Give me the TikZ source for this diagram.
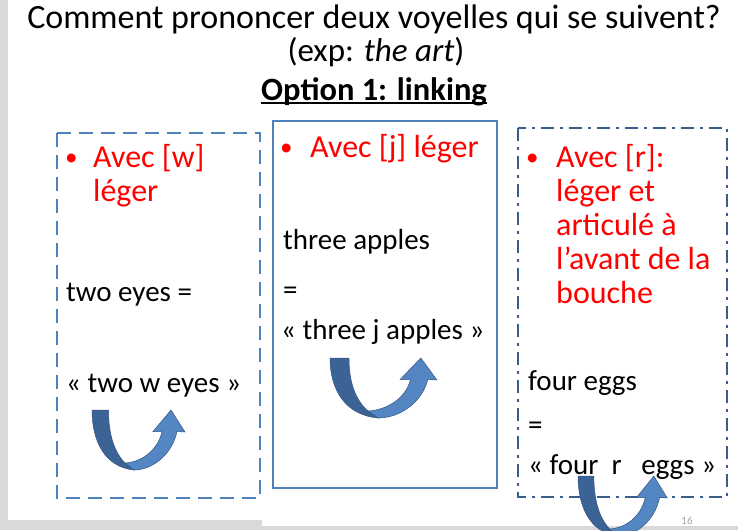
\documentclass[tikz,border=0pt]{standalone}
\usepackage{fontspec}
\setmainfont{Carlito}
\usepackage{tikz}

\definecolor{boxblue}{RGB}{79,129,189}
\definecolor{boxdark}{RGB}{56,93,138}
\definecolor{arrowdark}{RGB}{60,99,150}
\definecolor{arrowlight}{RGB}{84,134,196}
\definecolor{arrowedge}{RGB}{52,86,130}
\definecolor{slidegray}{RGB}{217,217,217}

\tikzset{
  txt/.style={anchor=base west, inner sep=0pt, align=left,
    font=\fontsize{29}{34}\selectfont},
  redtxt/.style={txt, text=red, font=\fontsize{32}{34}\selectfont},
  bullet/.style={txt, text=red, font=\fontsize{25}{30}\selectfont},
  titletxt/.style={anchor=base, inner sep=0pt,
    font=\fontsize{34}{38}\selectfont}
}

% the curved "linking" arrow, at top left corner (#1,#2), stretched by #3
\newcommand{\linkarrow}[3]{%
  \begin{scope}[shift={(#1,#2)}, xscale=#3]
    \fill[arrowdark, draw=arrowedge, line width=0.5pt] (0,0) -- (16.5,0)
      .. controls (16.5,30) and (25,50) .. (42,60)
      .. controls (12,57) and (0,30) .. cycle;
    \fill[arrowlight, draw=arrowedge, line width=0.5pt] (42,60)
      .. controls (60,60) and (80,45) .. (85,21.5) -- (93,22) -- (79,0)
      -- (61,21.5) -- (70,21.5)
      .. controls (66,40) and (50,52) .. (33,53) -- cycle;
  \end{scope}}

\begin{document}
\begin{tikzpicture}[x=1pt, y=-1pt]

    \useasboundingbox (0,0) rectangle (738,530);
    \fill[white] (0,0) rectangle (738,530);

    % slide edges
    \fill[slidegray] (0,0) rectangle (8,530);
    \fill[slidegray] (0,520) rectangle (262,530);
    \fill[slidegray] (262,526) rectangle (738,530);

    % title
    \node[titletxt] (ttl) at (374,28) {Comment prononcer deux voyelles qui se suivent?};
    \node[titletxt, font=\fontsize{33}{38}\selectfont] (expl) at (376,61) {(exp: \textit{the art})};
    \node[titletxt, font=\fontsize{32.5}{38}\selectfont\bfseries] (opt) at (374,100) {Option 1: linking};
    \draw[line width=1.6pt] ([yshift=-3pt]opt.base west) -- ([yshift=-3pt]opt.base east);

    % the three boxes
    \draw[boxblue, line width=2.5pt, dash pattern=on 14pt off 8pt] (57,133) rectangle (260,498);
    \draw[boxblue, line width=2pt] (273,121) rectangle (497,488);
    \draw[boxdark, line width=2.5pt, dash pattern=on 13pt off 6pt on 3pt off 6pt] (518,128) rectangle (727,497);

    % [w]  (base of a node with several lines = its last line)
    \node[bullet] (bulW) at (65,165) {•};
    \node[redtxt] (avecW) at (93,201) {Avec [w]\\léger};
    \node[txt] (eyes) at (66,301) {two eyes =};
    \node[txt] (eyesW) at (66,392) {« two w eyes »};

    % [j]
    \node[bullet] (bulJ) at (280,155) {•};
    \node[redtxt] (avecJ) at (310,157) {Avec [j] léger};
    \node[txt] (apples) at (283,249) {three apples};
    \node[txt] (eqJ) at (283,299) {=};
    \node[txt] (applesJ) at (281,339) {« three j apples »};

    % [r]
    \node[bullet] (bulR) at (526,165) {•};
    \node[redtxt] (avecR) at (556,303) {Avec [r]:\\léger et\\articulé à\\l’avant de la\\bouche};
    \node[txt] (eggs) at (528,390) {four eggs};
    \node[txt] (eqR) at (528,434) {=};
    \node[txt] (eggsR) at (528,474) {« four\ \ r\ \ \ eggs »};

    % arrows
    \linkarrow{92}{410}{1}
    \linkarrow{330}{358}{1.15}
    \linkarrow{578}{476}{0.96}

    \node[anchor=base, inner sep=0pt, text=black!35, font=\fontsize{11}{13}\selectfont] (pgnum) at (687,524) {16};
  \end{tikzpicture}
\end{document}
